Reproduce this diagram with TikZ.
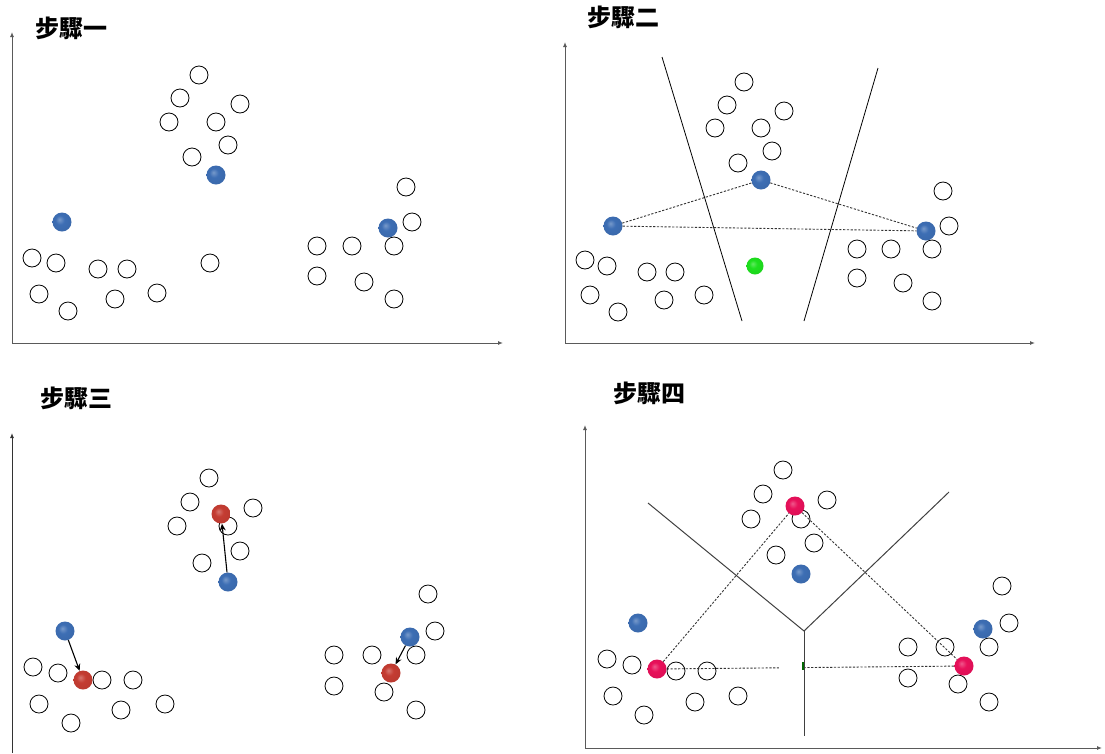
\documentclass[tikz,border=0pt]{standalone}
\usepackage{fontspec}
\newfontfamily\cjk{Noto Sans CJK TC}
\usetikzlibrary{arrows.meta}
\definecolor{ptblue}{RGB}{61,110,180}
\definecolor{ptred}{RGB}{196,60,50}
\definecolor{ptpink}{RGB}{232,16,90}
\definecolor{ptgreen}{RGB}{30,224,30}
\definecolor{axisgray}{RGB}{90,90,90}
\pgfdeclareradialshading{blueball}{\pgfpoint{-7bp}{7bp}}{color(0bp)=(ptblue!70!white); color(12bp)=(ptblue); color(38bp)=(ptblue!92!black); color(50bp)=(ptblue!45!black)}
\pgfdeclareradialshading{redball}{\pgfpoint{-7bp}{7bp}}{color(0bp)=(ptred!70!white); color(12bp)=(ptred); color(38bp)=(ptred!92!black); color(50bp)=(ptred!45!black)}
\pgfdeclareradialshading{pinkball}{\pgfpoint{-7bp}{7bp}}{color(0bp)=(ptpink!70!white); color(12bp)=(ptpink); color(38bp)=(ptpink!92!black); color(50bp)=(ptpink!45!black)}
\pgfdeclareradialshading{greenball}{\pgfpoint{-7bp}{7bp}}{color(0bp)=(ptgreen!70!white); color(12bp)=(ptgreen); color(38bp)=(ptgreen!92!black); color(50bp)=(ptgreen!45!black)}
\tikzset{
  opt/.style={circle, draw=black, line width=0.8pt, minimum size=18pt, inner sep=0pt},
  bluept/.style={circle, minimum size=19pt, inner sep=0pt, shading=blueball},
  redpt/.style={circle, minimum size=19pt, inner sep=0pt, shading=redball},
  pinkpt/.style={circle, minimum size=19pt, inner sep=0pt, shading=pinkball},
  greenpt/.style={circle, minimum size=17pt, inner sep=0pt, shading=greenball},
  axis/.style={draw=axisgray, line width=1pt, {Latex[length=5pt,width=4pt]}-{Latex[length=5pt,width=4pt]}},
  yaxis/.style={draw=black!80, line width=1pt, -{Latex[length=5pt,width=4pt]}},
  title/.style={font=\cjk\bfseries\fontsize{24}{28}\selectfont, anchor=west, inner sep=0pt},
  border/.style={draw=black, line width=0.8pt},
  vline/.style={draw=black!75, line width=1pt},
  dashedline/.style={draw=black!80, line width=0.9pt, dash pattern=on 2.2pt off 1.6pt},
  movearrow/.style={draw=black, line width=1.1pt, -{Stealth[length=7pt,width=6pt]}}
}
\begin{document}
\begin{tikzpicture}[x=1pt,y=-1pt]
\useasboundingbox (0,0) rectangle (1105,753);

% ---------------- Step 1 ----------------
\node[title] (t1) at (35,28) {步驟一};
\coordinate (y1) at (12,32);
\coordinate (o1) at (12,343);
\coordinate (x1) at (503,343);
\draw[axis] (y1) -- (o1) -- (x1);
\foreach \p [count=\i] in {(199,75),(180,98),(240,104),(169,122),(216,122),(228,145),(192,157),
  (32,258),(56,263),(98,269),(127,269),(210,263),(39,294),(68,311),(115,299),(157,293),
  (406,187),(412,222),(317,246),(352,246),(394,246),(317,276),(364,282),(394,299)}
  \node[opt] (a\i) at \p {};
\node[bluept] (a-b1) at (216,175) {};
\node[bluept] (a-b2) at (62,222) {};
\node[bluept] (a-b3) at (388,228) {};

% ---------------- Step 2 ----------------
\node[title] (t2) at (587,17) {步驟二};
\coordinate (y2) at (565,42);
\coordinate (o2) at (565,343);
\coordinate (x2) at (1035,343);
\draw[axis] (y2) -- (o2) -- (x2);
\foreach \p [count=\i] in {(744,82),(727,105),(784,111),(715,128),(761,128),(772,151),(738,163),
  (943,191),(949,226),(585,260),(607,266),(647,272),(675,272),(590,295),(618,312),(664,300),(704,295),
  (857,249),(891,249),(932,249),(857,278),(903,283),(932,301)}
  \node[opt] (b\i) at \p {};
\coordinate (l2a) at (662,57);
\coordinate (l2b) at (742,321);
\coordinate (l2c) at (878,68);
\coordinate (l2d) at (804,321);
\draw[border] (l2a) -- (l2b);
\draw[border] (l2c) -- (l2d);
\node[bluept] (b-mid) at (761,180) {};
\node[bluept] (b-left) at (613,226) {};
\node[bluept] (b-right) at (926,231) {};
\draw[dashedline] (b-left) -- (b-mid);
\draw[dashedline] (b-mid) -- (b-right);
\draw[dashedline] (b-left) -- (b-right);
\node[greenpt] (b-green) at (755,266) {};

% ---------------- Step 3 ----------------
\node[title] (t3) at (40,398) {步驟三};
\coordinate (y3) at (12,433);
\coordinate (o3) at (12,753);
\draw[yaxis] (o3) -- (y3);
\foreach \p [count=\i] in {(209,478),(190,502),(253,508),(177,526),(228,526),(240,551),(202,563),
  (33,667),(58,673),(102,680),(133,680),(39,704),(71,723),(121,710),(165,704),
  (428,594),(435,631),(334,655),(372,655),(416,655),(334,686),(384,692),(416,710)}
  \node[opt] (c\i) at \p {};
\node[redpt] (c-r1) at (221,514) {};
\node[redpt] (c-r2) at (83,680) {};
\node[redpt] (c-r3) at (391,673) {};
\node[bluept] (c-b1) at (228,582) {};
\node[bluept] (c-b2) at (65,631) {};
\node[bluept] (c-b3) at (410,637) {};
\draw[movearrow] (c-b1) -- (c-r1);
\draw[movearrow] (c-b2) -- (c-r2);
\draw[movearrow] (c-b3) -- (c-r3);

% ---------------- Step 4 ----------------
\node[title] (t4) at (613,393) {步驟四};
\coordinate (y4) at (585,425);
\coordinate (o4) at (585,748);
\coordinate (x4) at (1102,748);
\draw[axis] (y4) -- (o4) -- (x4);
\foreach \p [count=\i] in {(783,470),(763,494),(827,500),(751,519),(801,519),(814,543),(776,555),
  (607,659),(632,665),(676,671),(707,671),(613,696),(644,715),(695,702),(738,696),
  (1002,586),(1009,623),(908,647),(945,647),(989,647),(908,678),(958,684),(989,702)}
  \node[opt] (d\i) at \p {};
\node[pinkpt] (d-rt) at (795,506) {};
\node[pinkpt] (d-rl) at (657,669) {};
\node[pinkpt] (d-rr) at (964,666) {};
\draw[dashedline] (d-rl) -- (d-rt);
\draw[dashedline] (d-rt) -- (d-rr);
\draw[dashedline] (d-rl) -- (d-rr);
\fill[white] (779,650) rectangle (803,680);
\coordinate (vj) at (804,631);
\coordinate (vl) at (648,503);
\coordinate (vr) at (949,492);
\coordinate (vb) at (804,736);
\draw[vline] (vl) -- (vj) -- (vr);
\draw[vline] (vj) -- (vb);
\draw[draw=black!60!green, line width=1.6pt] (803,662) -- (803,670);
\node[bluept] (d-b1) at (801,574) {};
\node[bluept] (d-b2) at (638,623) {};
\node[bluept] (d-b3) at (983,629) {};
\end{tikzpicture}
\end{document}
